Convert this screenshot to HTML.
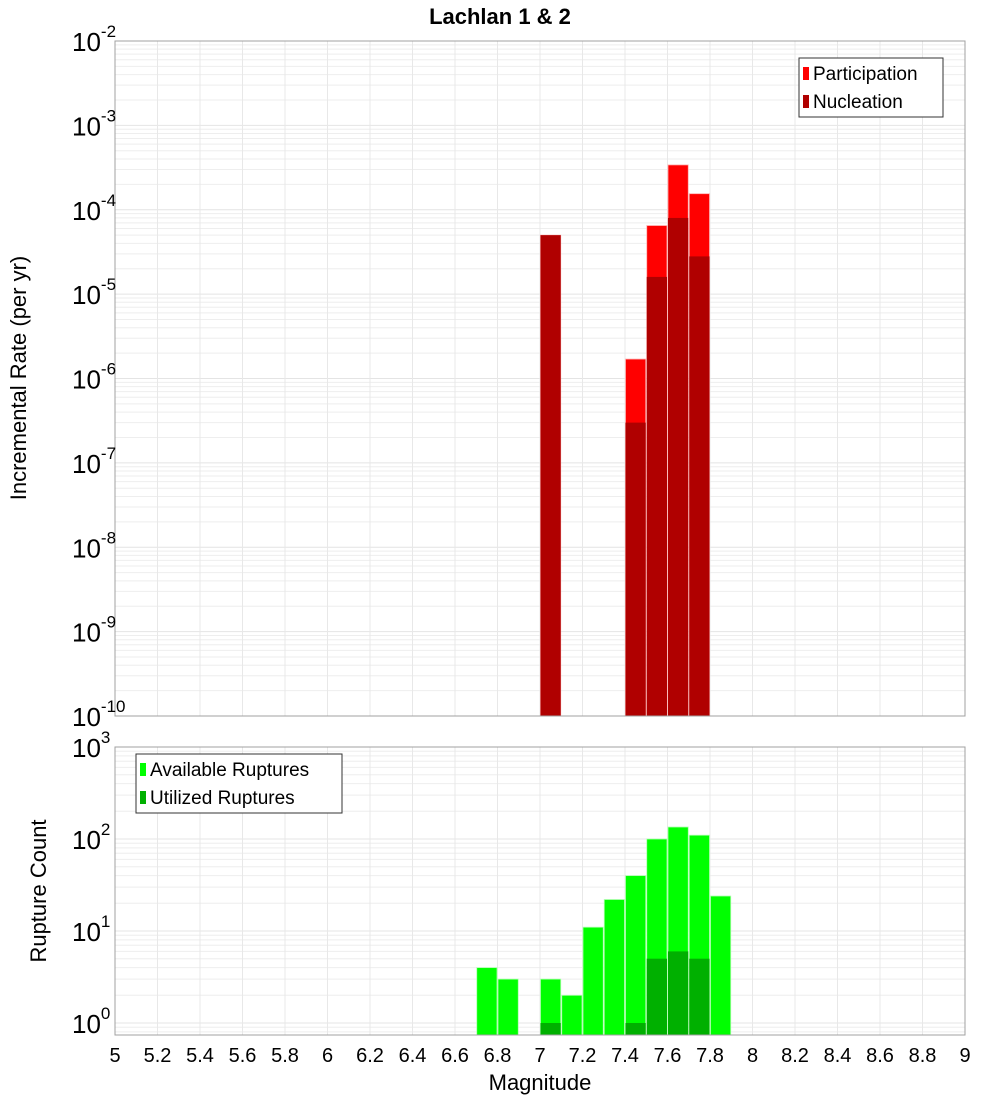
<!DOCTYPE html>
<html><head><meta charset="utf-8"><style>
body{margin:0;background:#fff;}
svg{display:block;font-family:"Liberation Sans","DejaVu Sans",sans-serif;}
</style></head><body>
<svg id="chart" width="1000" height="1100" viewBox="0 0 1000 1100"></svg>
<script>
// data
const binCenters = [6.75,6.85,7.05,7.15,7.25,7.35,7.45,7.55,7.65,7.75,7.85];
const participation = [null,null,5e-5,null,null,null,1.7e-6,6.5e-5,3.4e-4,1.55e-4,null];
const nucleation    = [null,null,5e-5,null,null,null,3e-7,1.6e-5,8e-5,2.8e-5,null];
const available = [4,3,3,2,11,22,40,100,135,110,24];
const utilized  = [null,null,1,null,null,null,1,5,6,5,null];
const xTicks = [5,5.2,5.4,5.6,5.8,6,6.2,6.4,6.6,6.8,7,7.2,7.4,7.6,7.8,8,8.2,8.4,8.6,8.8,9];
const xTickLabels = ["5","5.2","5.4","5.6","5.8","6","6.2","6.4","6.6","6.8","7","7.2","7.4","7.6","7.8","8","8.2","8.4","8.6","8.8","9"];
const topExps = [-2,-3,-4,-5,-6,-7,-8,-9,-10];
const botExps = [3,2,1,0];

const NS="http://www.w3.org/2000/svg";
const svg=document.getElementById('chart');
function mk(tag,attrs,parent){const e=document.createElementNS(NS,tag);for(const k in attrs)e.setAttribute(k,attrs[k]);(parent||svg).appendChild(e);return e;}

const X0=115,X1=965;
const x=v=>X0+(v-5)/4*(X1-X0);
const T0=41,T1=716; // top plot: 1e-2 .. 1e-10
const yTop=v=>T0+(-2-Math.log10(v))*(T1-T0)/8;
const B0=747,B1=1035,BDec=92; // bottom: 1e3 at 747
const yBot=v=>B0+(3-Math.log10(v))*BDec;
const BW=(X1-X0)/40;

function grid(yFn,expLo,expHi,ytop,ybot){
  for(let e=expLo;e<expHi;e++){for(let m=1;m<10;m++){const yy=yFn(m*Math.pow(10,e));if(yy<ytop-0.5||yy>ybot+0.5)continue;
    const l=mk('line',{x1:X0,x2:X1,y1:yy,y2:yy,stroke:m===1?'#e4e4e4':'#eeeeee','stroke-width':1});
    
    }}
  const yy=yFn(Math.pow(10,expHi));
  if(yy>=ytop-0.5){const l=mk('line',{x1:X0,x2:X1,y1:yy,y2:yy,stroke:'#e4e4e4'});}
  xTicks.forEach(t=>{const l=mk('line',{x1:x(t),x2:x(t),y1:ytop,y2:ybot,stroke:'#e8e8e8'});
    
    });
}
grid(yTop,-10,-2,T0,T1);
grid(yBot,-1,3,B0,B1);

// top bars
binCenters.forEach((c,i)=>{
  if(participation[i]!=null){const y=yTop(participation[i]);
    const r=mk('rect',{x:x(c)-BW/2+0.5,y:y,width:BW-1,height:T1-y,fill:'#ff0000',stroke:'#ffb0b0','stroke-width':0.8});
    
    }
  if(nucleation[i]!=null){const y=yTop(nucleation[i]);
    const r=mk('rect',{x:x(c)-BW/2+0.5,y:y,width:BW-1,height:T1-y,fill:'#b00000'});
    
    }
});
// bottom bars
binCenters.forEach((c,i)=>{
  if(available[i]!=null){const y=yBot(available[i]);
    const r=mk('rect',{x:x(c)-BW/2+0.5,y:y,width:BW-1,height:B1-y,fill:'#00ff00',stroke:'#b0ffb0','stroke-width':0.8});
    
    }
  if(utilized[i]!=null){const y=yBot(utilized[i]);
    const r=mk('rect',{x:x(c)-BW/2+0.5,y:y,width:BW-1,height:B1-y,fill:'#00b000'});
    
    }
});

// frames
const f1=mk('rect',{x:X0,y:T0,width:X1-X0,height:T1-T0,fill:'none',stroke:'#a0a0a0'});


const f2=mk('rect',{x:X0,y:B0,width:X1-X0,height:B1-B0,fill:'none',stroke:'#a0a0a0'});



// y tick labels
function ylab(exp,yy,name){
  const t=mk('text',{x:72,y:yy+10,'font-size':26,fill:'#000'});
  
  
  t.textContent='10';
  const s=mk('tspan',{dy:-14,'font-size':17},t);s.textContent=String(exp);
}
topExps.forEach(e=>ylab(e,yTop(Math.pow(10,e)),'y-tick-label'));
botExps.forEach(e=>ylab(e,yBot(Math.pow(10,e)),'y-tick-label'));

// x tick labels
xTicks.forEach((t,i)=>{const tx=mk('text',{x:x(t),y:1062,'font-size':20,'text-anchor':'middle',fill:'#000'});
  
  
  tx.textContent=xTickLabels[i];});

// titles
const ti=mk('text',{x:500,y:24,'font-size':22,'font-weight':'bold','text-anchor':'middle'});


ti.textContent='Lachlan 1 & 2';
const xt=mk('text',{x:540,y:1090,'font-size':22,'text-anchor':'middle'});


xt.textContent='Magnitude';
const yt1=mk('text',{x:0,y:0,'font-size':22,'text-anchor':'middle',transform:'translate(26,378) rotate(-90)'});


yt1.textContent='Incremental Rate (per yr)';
const yt2=mk('text',{x:0,y:0,'font-size':22,'text-anchor':'middle',transform:'translate(46,891) rotate(-90)'});


yt2.textContent='Rupture Count';

// legends
function legend(bx,by,w,items,name){
  const g=mk('g',{});
  
  
  mk('rect',{x:bx,y:by,width:w,height:59,fill:'#fff',stroke:'#333'},g);
  items.forEach((it,i)=>{
    const yy=by+15+i*28;
    mk('rect',{x:bx+4,y:yy-6,width:6,height:13,fill:it[1]},g);
    const t=mk('text',{x:bx+14,y:yy+7,'font-size':19,fill:'#000'},g);
    t.textContent=it[0];
  });
}
legend(799,58,144,[['Participation','#ff0000'],['Nucleation','#b00000']],'rate-legend');
legend(136,754,206,[['Available Ruptures','#00ff00'],['Utilized Ruptures','#00b000']],'rupture-legend');
</script>
</body></html>
